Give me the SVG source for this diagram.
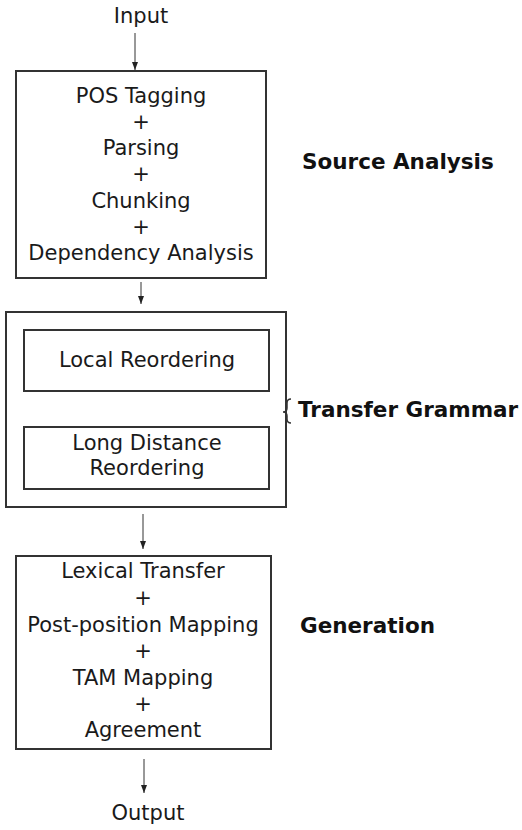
<svg xmlns="http://www.w3.org/2000/svg" width="522" height="830" viewBox="0 0 522 830">
  <defs>
    <marker id="head" viewBox="0 0 8 6" refX="8" refY="3" markerWidth="8" markerHeight="6" markerUnits="userSpaceOnUse" orient="auto">
      <path d="M0,0 L8,3 L0,6 Z" fill="#222"/>
    </marker>
  </defs>
  <style>
    .box { fill: #fff; stroke: #333; stroke-width: 2; }
    .txt { font-family: "DejaVu Sans", Verdana, sans-serif; font-size: 21px; fill: #1a1a1a; text-anchor: middle; }
    .lbl { font-family: "DejaVu Sans", Verdana, sans-serif; font-size: 21.5px; font-weight: bold; fill: #111; }
    .conn { stroke: #333; stroke-width: 1; fill: none; marker-end: url(#head); }
  </style>
  <rect width="522" height="830" fill="#fff"/>

  <g id="connectors">
    <line class="conn" x1="135" y1="33" x2="135" y2="70"/>
    <line class="conn" x1="141" y1="282" x2="141" y2="304"/>
    <line class="conn" x1="143" y1="514" x2="143" y2="549"/>
    <line class="conn" x1="144" y1="759" x2="144" y2="793"/>
  </g>

  <g id="input">
    <text class="txt" x="141" y="23">Input</text>
  </g>

  <g id="source-analysis">
    <rect class="box" x="16" y="71" width="250" height="207"/>
    <text class="txt" x="141" y="103">POS Tagging</text>
    <text class="txt" x="141" y="129">+</text>
    <text class="txt" x="141" y="155">Parsing</text>
    <text class="txt" x="141" y="181">+</text>
    <text class="txt" x="141" y="208">Chunking</text>
    <text class="txt" x="141" y="234">+</text>
    <text class="txt" x="141" y="260">Dependency Analysis</text>
  </g>
  <g id="source-analysis-label">
    <text class="lbl" x="302" y="169">Source Analysis</text>
  </g>

  <g id="transfer-grammar">
    <rect class="box" x="6" y="312" width="280" height="195"/>
    <!-- curly brace riding on the right edge of the group box -->
    <path d="M291,399 Q287,399 287,403 L287,408 Q287,412 283,412 Q287,412 287,416 L287,419 Q287,423 291,423" fill="none" stroke="#333" stroke-width="1.5"/>
  </g>
  <g id="local-reordering">
    <rect class="box" x="24" y="330" width="245" height="61"/>
    <text class="txt" x="147" y="367">Local Reordering</text>
  </g>
  <g id="long-distance-reordering">
    <rect class="box" x="24" y="427" width="245" height="62"/>
    <text class="txt" x="147" y="450">Long Distance</text>
    <text class="txt" x="147" y="475">Reordering</text>
  </g>
  <g id="transfer-grammar-label">
    <text class="lbl" x="298" y="417">Transfer Grammar</text>
  </g>

  <g id="generation">
    <rect class="box" x="16" y="556" width="255" height="193"/>
    <text class="txt" x="143" y="578">Lexical Transfer</text>
    <text class="txt" x="143" y="605">+</text>
    <text class="txt" x="143" y="632">Post-position Mapping</text>
    <text class="txt" x="143" y="658">+</text>
    <text class="txt" x="143" y="685">TAM Mapping</text>
    <text class="txt" x="143" y="711">+</text>
    <text class="txt" x="143" y="737">Agreement</text>
  </g>
  <g id="generation-label">
    <text class="lbl" x="300" y="633">Generation</text>
  </g>

  <g id="output">
    <text class="txt" x="148" y="820">Output</text>
  </g>
</svg>
